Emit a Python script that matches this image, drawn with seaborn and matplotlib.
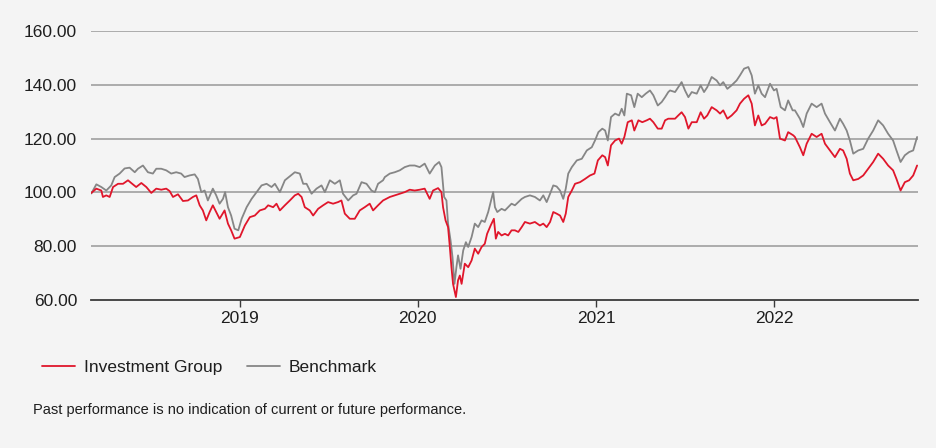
import matplotlib
matplotlib.use("Agg")
import matplotlib.pyplot as plt
import matplotlib.dates as mdates
from matplotlib.lines import Line2D
import seaborn as sns
import pandas as pd
import numpy as np

# ---- data (decimal years) ----
bench_t = [2018.165, 2018.193, 2018.221, 2018.249, 2018.277, 2018.296, 2018.324, 2018.352, 2018.380, 2018.409,
           2018.427, 2018.455, 2018.483, 2018.511, 2018.530, 2018.558, 2018.586, 2018.614, 2018.642, 2018.670,
           2018.689, 2018.717, 2018.746, 2018.764, 2018.783, 2018.802, 2018.820, 2018.848, 2018.867, 2018.886,
           2018.905, 2018.917, 2018.933, 2018.951, 2018.970, 2018.991, 2019.010, 2019.038, 2019.066, 2019.094,
           2019.122, 2019.150, 2019.178, 2019.197, 2019.225, 2019.253, 2019.281, 2019.309, 2019.337, 2019.356,
           2019.375, 2019.403, 2019.431, 2019.459, 2019.478, 2019.506, 2019.534, 2019.562, 2019.580, 2019.609,
           2019.637, 2019.656, 2019.684, 2019.712, 2019.740, 2019.759, 2019.777, 2019.805, 2019.815, 2019.843,
           2019.871, 2019.899, 2019.927, 2019.955, 2019.983, 2020.011, 2020.039, 2020.067, 2020.096, 2020.120,
           2020.133, 2020.148, 2020.161, 2020.170, 2020.184, 2020.195, 2020.206, 2020.217, 2020.226, 2020.240,
           2020.255, 2020.270, 2020.283, 2020.302, 2020.320, 2020.339, 2020.358, 2020.376, 2020.395, 2020.409,
           2020.423, 2020.433, 2020.446, 2020.470, 2020.489, 2020.507, 2020.526, 2020.545, 2020.564, 2020.583,
           2020.601, 2020.629, 2020.657, 2020.685, 2020.704, 2020.723, 2020.742, 2020.760, 2020.779, 2020.798,
           2020.816, 2020.830, 2020.844, 2020.864, 2020.892, 2020.920, 2020.948, 2020.976, 2020.994, 2021.013,
           2021.035, 2021.051, 2021.066, 2021.084, 2021.107, 2021.129, 2021.144, 2021.159, 2021.173, 2021.197,
           2021.215, 2021.234, 2021.257, 2021.279, 2021.303, 2021.322, 2021.347, 2021.369, 2021.388, 2021.406,
           2021.416, 2021.444, 2021.462, 2021.481, 2021.500, 2021.519, 2021.538, 2021.566, 2021.588, 2021.607,
           2021.625, 2021.650, 2021.678, 2021.697, 2021.715, 2021.738, 2021.762, 2021.790, 2021.809, 2021.832,
           2021.856, 2021.875, 2021.893, 2021.912, 2021.931, 2021.950, 2021.978, 2022.000, 2022.015, 2022.038,
           2022.062, 2022.080, 2022.105, 2022.118, 2022.146, 2022.165, 2022.184, 2022.212, 2022.240, 2022.268,
           2022.287, 2022.315, 2022.343, 2022.371, 2022.389, 2022.409, 2022.427, 2022.446, 2022.474, 2022.502,
           2022.530, 2022.558, 2022.586, 2022.614, 2022.642, 2022.670, 2022.689, 2022.712, 2022.736, 2022.760,
           2022.783, 2022.805]
bench_v = [99.6, 103.0, 102.0, 100.7, 102.6, 105.7, 107.0, 108.9, 109.2, 107.5,
           108.8, 110.0, 107.5, 107.0, 108.8, 108.8, 108.2, 107.0, 107.5, 107.0,
           105.7, 106.3, 106.7, 105.0, 100.1, 100.7, 97.0, 101.4, 98.9, 95.8,
           97.6, 100.1, 94.5, 91.4, 86.5, 85.9, 90.2, 94.5, 97.6, 100.1,
           102.6, 103.2, 102.0, 103.2, 100.1, 104.5, 106.0, 107.5, 107.0, 103.2,
           103.2, 99.5, 101.4, 102.6, 100.1, 104.5, 103.2, 104.5, 99.5, 97.0,
           98.9, 99.5, 103.8, 103.2, 100.7, 100.1, 103.2, 104.5, 105.7, 107.0,
           107.5, 108.2, 109.4, 110.0, 110.0, 109.4, 110.7, 107.0, 110.0, 111.3,
           109.4, 98.3, 97.0, 88.4, 82.2, 75.9, 66.0, 72.2, 76.6, 71.6,
           78.4, 81.5, 79.7, 83.4, 88.4, 87.1, 89.6, 89.0, 92.7, 96.4,
           100.1, 94.5, 92.7, 93.9, 93.3, 94.5, 95.8, 95.2, 96.4, 97.6,
           98.3, 98.9, 98.3, 97.0, 98.9, 96.4, 99.5, 102.6, 102.2, 100.7,
           97.6, 101.4, 107.0, 109.4, 111.9, 112.5, 115.6, 116.8, 119.3, 122.4,
           123.7, 123.0, 119.3, 128.0, 129.3, 128.6, 131.1, 128.6, 136.7, 136.1,
           131.7, 136.7, 135.4, 136.7, 137.9, 136.1, 132.3, 133.6, 135.4, 137.3,
           137.9, 137.3, 139.1, 141.0, 137.9, 135.4, 137.3, 136.7, 139.8, 137.3,
           139.1, 142.9, 141.6, 139.8, 141.0, 138.5, 139.8, 141.6, 143.5, 146.0,
           146.6, 143.5, 136.7, 139.8, 136.7, 135.4, 140.4, 137.9, 138.5, 131.7,
           130.5, 134.2, 130.5, 130.5, 127.4, 124.3, 129.3, 133.0, 131.7, 133.0,
           129.3, 126.1, 123.0, 127.4, 125.5, 123.0, 119.3, 114.4, 115.6, 116.2,
           120.0, 123.0, 126.8, 124.9, 121.8, 119.3, 115.6, 111.3, 113.8, 115.0,
           115.6, 120.6]

fund_t = [2018.165, 2018.193, 2018.221, 2018.230, 2018.249, 2018.268, 2018.287, 2018.315, 2018.343, 2018.371,
          2018.389, 2018.417, 2018.446, 2018.474, 2018.502, 2018.530, 2018.558, 2018.586, 2018.605, 2018.624,
          2018.652, 2018.680, 2018.708, 2018.736, 2018.755, 2018.774, 2018.792, 2018.811, 2018.830, 2018.848,
          2018.867, 2018.886, 2018.914, 2018.933, 2018.951, 2018.970, 2019.000, 2019.028, 2019.056, 2019.084,
          2019.112, 2019.141, 2019.159, 2019.187, 2019.206, 2019.225, 2019.253, 2019.281, 2019.309, 2019.328,
          2019.347, 2019.365, 2019.393, 2019.412, 2019.440, 2019.468, 2019.496, 2019.524, 2019.552, 2019.571,
          2019.590, 2019.618, 2019.646, 2019.674, 2019.702, 2019.730, 2019.749, 2019.777, 2019.805, 2019.843,
          2019.871, 2019.899, 2019.927, 2019.955, 2019.983, 2020.011, 2020.039, 2020.067, 2020.086, 2020.114,
          2020.133, 2020.142, 2020.156, 2020.170, 2020.180, 2020.189, 2020.198, 2020.214, 2020.226, 2020.236,
          2020.246, 2020.264, 2020.283, 2020.302, 2020.320, 2020.339, 2020.358, 2020.376, 2020.389, 2020.409,
          2020.427, 2020.438, 2020.451, 2020.470, 2020.489, 2020.507, 2020.526, 2020.545, 2020.564, 2020.583,
          2020.601, 2020.629, 2020.657, 2020.685, 2020.704, 2020.723, 2020.742, 2020.760, 2020.779, 2020.798,
          2020.816, 2020.830, 2020.844, 2020.864, 2020.882, 2020.910, 2020.938, 2020.966, 2020.991, 2021.010,
          2021.035, 2021.051, 2021.066, 2021.084, 2021.107, 2021.129, 2021.144, 2021.159, 2021.178, 2021.201,
          2021.215, 2021.238, 2021.260, 2021.285, 2021.303, 2021.322, 2021.347, 2021.369, 2021.388, 2021.406,
          2021.444, 2021.462, 2021.481, 2021.500, 2021.519, 2021.538, 2021.566, 2021.588, 2021.607, 2021.625,
          2021.650, 2021.678, 2021.697, 2021.715, 2021.738, 2021.762, 2021.790, 2021.809, 2021.832, 2021.856,
          2021.875, 2021.893, 2021.912, 2021.931, 2021.950, 2021.978, 2022.000, 2022.015, 2022.034, 2022.062,
          2022.080, 2022.109, 2022.118, 2022.146, 2022.165, 2022.184, 2022.212, 2022.240, 2022.268, 2022.287,
          2022.315, 2022.343, 2022.371, 2022.389, 2022.409, 2022.427, 2022.446, 2022.474, 2022.502, 2022.530,
          2022.558, 2022.586, 2022.614, 2022.642, 2022.670, 2022.689, 2022.712, 2022.736, 2022.760, 2022.783,
          2022.805]
fund_v = [99.8, 101.4, 100.7, 98.3, 98.9, 98.3, 102.0, 103.2, 103.2, 104.5,
          103.5, 102.0, 103.5, 102.0, 99.8, 101.4, 101.0, 101.4, 100.5, 98.3,
          99.3, 96.8, 97.0, 98.3, 98.9, 95.2, 93.3, 89.6, 92.7, 95.2,
          92.7, 90.2, 93.3, 88.4, 85.9, 82.8, 83.4, 87.7, 90.8, 91.4,
          93.3, 93.9, 95.2, 94.5, 95.8, 93.3, 95.2, 97.0, 98.9, 99.5,
          98.3, 94.5, 93.3, 91.4, 93.9, 95.2, 96.4, 95.8, 96.4, 97.0,
          92.1, 90.2, 90.2, 93.3, 94.5, 95.8, 93.3, 95.2, 97.0, 98.3,
          98.9, 99.5, 100.1, 101.0, 100.7, 101.0, 101.4, 97.6, 100.7, 101.6,
          100.1, 94.5, 89.6, 87.1, 79.7, 72.2, 66.0, 61.1, 67.3, 69.1,
          66.0, 73.5, 72.2, 74.7, 79.1, 77.2, 79.7, 80.9, 84.6, 87.7,
          90.2, 82.8, 85.3, 84.0, 84.6, 84.0, 85.9, 85.9, 85.3, 87.1,
          89.0, 88.4, 89.0, 87.7, 88.4, 87.1, 89.0, 92.7, 92.1, 91.4,
          89.0, 92.1, 98.3, 100.7, 103.2, 103.8, 105.0, 106.3, 107.0, 111.9,
          113.8, 113.1, 110.0, 117.5, 119.3, 120.0, 118.1, 120.6, 126.1, 126.8,
          123.0, 126.8, 126.1, 126.8, 127.4, 126.1, 123.7, 123.7, 126.8, 127.4,
          127.4, 128.6, 129.8, 128.0, 123.7, 126.1, 126.1, 129.8, 127.4, 128.6,
          131.7, 130.5, 129.3, 130.5, 127.4, 128.6, 130.5, 133.0, 134.8, 136.1,
          133.0, 124.9, 128.6, 124.9, 125.5, 128.0, 127.4, 128.0, 120.0, 119.3,
          122.4, 121.2, 120.6, 116.8, 113.8, 118.1, 121.8, 120.6, 121.8, 118.1,
          115.6, 113.1, 116.2, 115.6, 112.5, 107.0, 104.5, 105.0, 106.3, 108.8,
          111.3, 114.4, 112.5, 110.0, 108.2, 105.0, 100.7, 103.8, 104.5, 106.3,
          110.0]

series_names = ["Investment Group", "Benchmark"]
y_ticks = [60, 80, 100, 120, 140, 160]
x_start, x_end = 2018.163, 2022.81
footnote = "Past performance is no indication of current or future performance."


def to_date(t):
    y = int(np.floor(t))
    start = pd.Timestamp(year=y, month=1, day=1)
    days = (pd.Timestamp(year=y + 1, month=1, day=1) - start).days
    return start + pd.Timedelta(days=(t - y) * days)


df = pd.concat([
    pd.DataFrame({"date": [to_date(t) for t in fund_t], "value": fund_v, "series": series_names[0]}),
    pd.DataFrame({"date": [to_date(t) for t in bench_t], "value": bench_v, "series": series_names[1]}),
])

BG = "#f4f4f4"
RED = "#e0162b"
GREY = "#868686"
TXT = "#1e1e1e"
FS = 12.5

sns.set_theme(style="white")
plt.rcParams["font.family"] = ["Liberation Sans", "DejaVu Sans"]

fig = plt.figure(figsize=(9.36, 4.48), dpi=100, facecolor=BG)
ax = fig.add_axes([91 / 936, 1 - 300 / 448, (918 - 91) / 936, (300 - 31) / 448])
ax.set_facecolor(BG)

# gridlines
for v in y_ticks[1:]:
    ax.axhline(v, color="#a6a6a6", lw=1.3, zorder=1)

sns.lineplot(data=df, x="date", y="value", hue="series", hue_order=[series_names[1], series_names[0]],
             palette={series_names[0]: RED, series_names[1]: GREY}, linewidth=1.3,
             estimator=None, sort=True, legend=False, ax=ax, zorder=3)

ax.set_xlim(to_date(x_start), to_date(x_end))
ax.set_ylim(60, 160)
ax.set_yticks(y_ticks)
ax.set_yticklabels([f"{v:.2f}" for v in y_ticks])
ax.xaxis.set_major_locator(mdates.YearLocator())
ax.xaxis.set_major_formatter(mdates.DateFormatter("%Y"))
ax.set_xlabel("")
ax.set_ylabel("")
for s in ["top", "right", "left"]:
    ax.spines[s].set_visible(False)
ax.spines["bottom"].set_color("#3a3a3a")
ax.spines["bottom"].set_linewidth(1.3)
ax.tick_params(axis="y", length=0, pad=10, labelsize=FS, colors=TXT)
ax.tick_params(axis="x", length=5, width=1, color="#3a3a3a", direction="out", pad=3,
               labelsize=FS, colors=TXT, bottom=True)
ax.grid(False)

# legend
handles = [Line2D([], [], color=RED, lw=1.3), Line2D([], [], color=GREY, lw=1.3)]
fig.legend(handles, series_names, loc="center left", bbox_to_anchor=(42 / 936, 1 - 367 / 448),
           ncol=2, frameon=False, fontsize=FS, handlelength=1.9, handletextpad=0.5,
           columnspacing=1.45, borderpad=0, borderaxespad=0, labelcolor=TXT)

fig.text(33 / 936, 1 - 410 / 448, footnote, fontsize=10.5, color=TXT, va="center", ha="left")

fig.savefig("out.png", dpi=100, facecolor=BG)
